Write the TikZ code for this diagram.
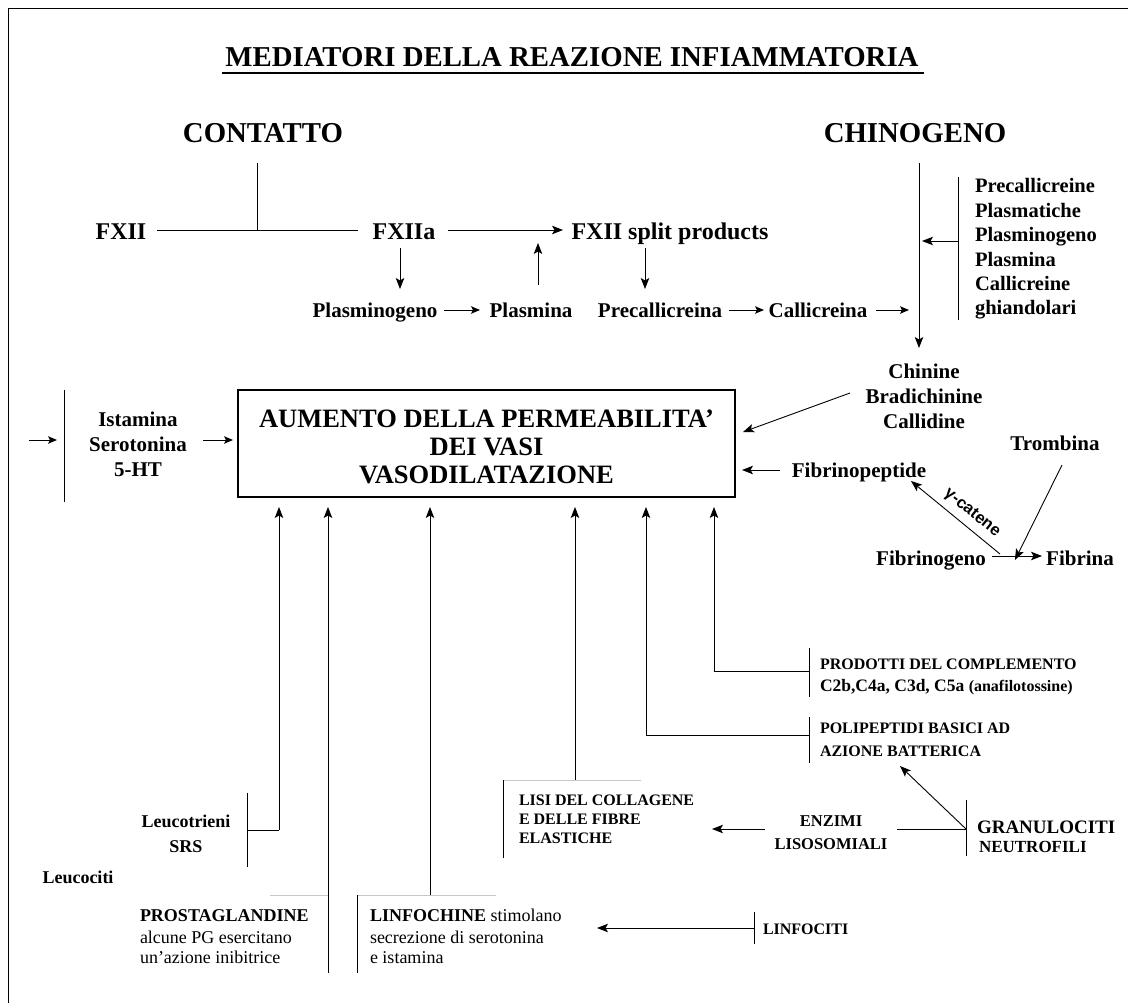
\documentclass[tikz,border=0pt]{standalone}
\usepackage{fontspec}
\setmainfont{Liberation Serif}
\newfontfamily\sansfam{Liberation Sans}
\usetikzlibrary{arrows.meta,calc}
\tikzset{
  every node/.style={inner sep=0pt,outer sep=0pt},
  hd/.style={font=\fontsize{28.8}{31}\selectfont\bfseries},
  fa/.style={font=\fontsize{24}{27}\selectfont\bfseries},
  fb/.style={font=\fontsize{21}{26}\selectfont\bfseries},
  fl/.style={font=\fontsize{20.5}{24.4}\selectfont\bfseries, align=left},
  fc/.style={font=\fontsize{21}{25}\selectfont\bfseries, align=center},
  mainbox/.style={draw, line width=1.2pt, minimum width=497pt, minimum height=107pt},
  boxtxt/.style={font=\fontsize{26.5}{28}\selectfont\bfseries, align=center},
  fs/.style={font=\fontsize{18}{25}\selectfont\bfseries},
  fr/.style={font=\fontsize{18}{22}\selectfont},
  fp/.style={font=\fontsize{16}{22}\selectfont\bfseries},
  fq/.style={font=\fontsize{16}{19}\selectfont\bfseries},
  fe/.style={font=\fontsize{16.5}{23}\selectfont\bfseries, align=center},
  ln/.style={line width=0.9pt},
  faint/.style={line width=0.9pt, black!22},
  arr/.style={line width=0.9pt, -{Stealth[length=11pt,width=8.5pt,inset=2.5pt]}},
  sarr/.style={line width=0.9pt, -{Stealth[length=9pt,width=7.5pt,inset=2pt]}},
}
\begin{document}
\begin{tikzpicture}[x=1pt,y=-1pt]
\useasboundingbox (0,0) rectangle (1128,1003);
\fill[white] (0,0) rectangle (1128,1003);
\draw[line width=1.4pt] (1128,8.5) -- (8.5,8.5) -- (8.5,1003);

% title
\node[hd, anchor=base] (title) at (572,67) {MEDIATORI DELLA REAZIONE INFIAMMATORIA};
\draw[line width=1.2pt] (222,73) -- (924,73);

\node[hd, anchor=base] (contatto) at (263,143) {CONTATTO};
\node[hd, anchor=base] (chinogeno) at (915,143) {CHINOGENO};

% row 1
\node[fa, anchor=base] (fxii) at (121,240) {FXII};
\node[fa, anchor=base] (fxiia) at (404,240) {FXIIa};
\node[fa, anchor=base] (split) at (670,240) {FXII split products};
\coordinate (ct) at (257,163);
\coordinate (cj) at (257,230);
\draw[ln] (ct) -- (cj);
\draw[ln] (157,230) -- (358,230);
\draw[arr] (448,230) -- (563,230);

% row 2
\node[fb, anchor=base] (plg) at (375,317) {Plasminogeno};
\node[fb, anchor=base] (pla) at (531,317) {Plasmina};
\node[fb, anchor=base] (pcal) at (660,317) {Precallicreina};
\node[fb, anchor=base] (cal) at (818,317) {Callicreina};
\draw[arr] (400,248) -- (400,289);
\draw[arr] (538,285) -- (538,243);
\draw[arr] (645,248) -- (645,289);
\draw[sarr] (444,310) -- (480,310);
\draw[sarr] (729,310) -- (764,310);
\draw[sarr] (876,310) -- (909,310);

% chinogeno column
\draw[arr] (919,163) -- (919,348);
\node[fl, anchor=west] (list) at (975,249) {Precallicreine\\Plasmatiche\\Plasminogeno\\Plasmina\\Callicreine\\ghiandolari};
\draw[ln] (958,177) -- (958,320);
\draw[arr] (958,241) -- (922,241);

\node[fc] (chin) at (924,396) {Chinine\\Bradichinine\\Callidine};

% main box
\node[mainbox] (box) at (486.5,443.5) {};
\node[boxtxt] (boxtext) at (486.5,447) {AUMENTO DELLA PERMEABILITA’\\DEI VASI\\VASODILATAZIONE};
\draw[arr] (850,393) -- (743,432);

% left group
\node[fc] (ist) at (138,444) {Istamina\\Serotonina\\5-HT};
\draw[ln] (64,390) -- (64,502);
\draw[sarr] (29,440) -- (57,440);
\draw[sarr] (203,440) -- (233,440);

% fibrin
\node[fb, anchor=base] (fpep) at (859,477) {Fibrinopeptide};
\draw[arr] (780,470) -- (742,470);
\node[fb, anchor=base] (tromb) at (1055,450) {Trombina};
\node[fb, anchor=base] (fgeno) at (931,565) {Fibrinogeno};
\node[fb, anchor=base] (fina) at (1080,565) {Fibrina};
\draw[arr] (992,556) -- (1042,556);
\draw[arr] (1062,465) -- (1015,560);
\draw[arr] (1000,554) -- (911,481);
\node[font=\sansfam\bfseries\fontsize{16.5}{18}\selectfont, rotate=-39] (gcat) at (972,513) {γ-catene};

% vertical arrows into box
\draw[arr] (279,830) -- (279,507);
\draw[arr] (328,973) -- (328,507);
\draw[arr] (430,895) -- (430,507);
\draw[arr] (575,780) -- (575,507);
\draw[arr] (646,735) -- (646,507);
\draw[arr] (714,671) -- (714,507);

% Leucotrieni
\draw[ln] (247,793) -- (247,867);
\draw[ln] (247,830) -- (279,830);
\node[fs, align=center] (leuco) at (186,834) {Leucotrieni\\SRS};
\node[fs, anchor=base] (leucoc) at (78,883) {Leucociti};

% Prostaglandine
\draw[faint] (270,895) -- (328,895);
\node[fs, anchor=base west] (pg1) at (140,921) {PROSTAGLANDINE};
\node[fr, anchor=base west] (pg2) at (140,943) {alcune PG esercitano};
\node[fr, anchor=base west] (pg3) at (140,963) {un’azione inibitrice};

% Linfochine
\draw[faint] (357,895) -- (496,895);
\draw[ln] (357,895) -- (357,973);
\node[fr, anchor=base west] (lf1) at (370,921) {\textbf{LINFOCHINE} stimolano};
\node[fr, anchor=base west] (lf2) at (370,943) {secrezione di serotonina};
\node[fr, anchor=base west] (lf3) at (370,963) {e istamina};
\node[fp, anchor=base west] (linfoc) at (763,934) {LINFOCITI};
\draw[ln] (754,912) -- (754,944);
\draw[arr] (754,928) -- (597,928);

% Lisi
\draw[faint] (503,780) -- (641,780);
\draw[ln] (503,780) -- (503,858);
\node[fq, anchor=base west] (ls1) at (519,805) {LISI DEL COLLAGENE};
\node[fq, anchor=base west] (ls2) at (519,824) {E DELLE FIBRE};
\node[fq, anchor=base west] (ls3) at (519,843) {ELASTICHE};

% enzimi / granulociti
\node[fe] (enz) at (831,833) {ENZIMI\\LISOSOMIALI};
\draw[arr] (765,829) -- (712,829);
\draw[ln] (897,829) -- (966,829);
\draw[ln] (966,800) -- (966,856);
\draw[arr] (966,829) -- (900,766);
\node[font=\fontsize{19}{22}\selectfont\bfseries, anchor=base west] (gran) at (977,833) {GRANULOCITI};
\node[font=\fontsize{17}{22}\selectfont\bfseries, anchor=base west] (neut) at (979,852) {NEUTROFILI};

% polipeptidi
\draw[ln] (646,735) -- (809,735);
\draw[ln] (809,717) -- (809,763);
\node[fp, anchor=base west] (pp1) at (820,733) {POLIPEPTIDI BASICI AD};
\node[fp, anchor=base west] (pp2) at (820,756) {AZIONE BATTERICA};

% complemento
\draw[ln] (714,671) -- (809,671);
\draw[ln] (809,648) -- (809,697);
\node[fp, anchor=base west] (cp1) at (820,669) {PRODOTTI DEL COMPLEMENTO};
\node[anchor=base west] (cp2) at (820,691) {\fontsize{17.5}{22}\selectfont\bfseries C2b,C4a, C3d, C5a {\fontsize{16}{22}\selectfont (anafilotossine)}};
\end{tikzpicture}
\end{document}
